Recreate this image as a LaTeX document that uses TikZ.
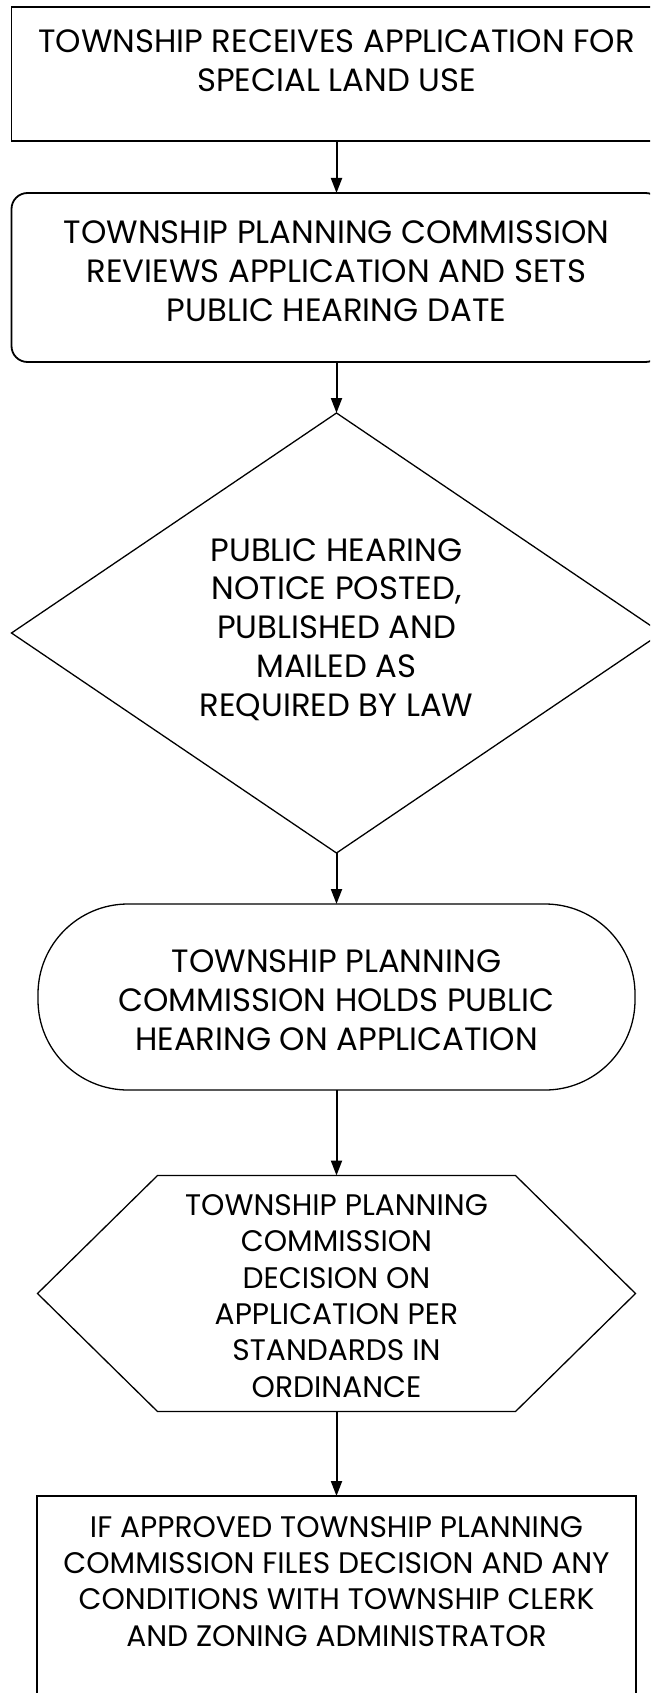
\documentclass[tikz,border=0pt]{standalone}
\usepackage{fontspec}
\setmainfont{Poppins}
\usetikzlibrary{arrows.meta,shapes.geometric,calc}
\begin{document}
\begin{tikzpicture}[x=1pt,y=-1pt,
  boxline/.style={draw=black, line width=1.8pt, inner sep=0pt, outer sep=0pt},
  thinline/.style={draw=black, line width=1.3pt, inner sep=0pt, outer sep=0pt},
  txt/.style={align=center, inner sep=0pt, font=\fontsize{32.3}{38.8}\selectfont},
  smalltxt/.style={align=center, inner sep=0pt, font=\fontsize{29.7}{36.3}\selectfont},
  flow/.style={line width=2pt, -{Triangle[length=15pt,width=11pt]}}
]
\useasboundingbox (0,0) rectangle (650,1693);
\fill[white] (0,0) rectangle (650,1693);
\clip (0,0) rectangle (650,1693);

% shapes
\node[boxline, minimum width=650pt, minimum height=134pt] (b1) at (336.5,74) {};
\node[boxline, rounded corners=16pt, minimum width=650pt, minimum height=169pt] (b2) at (336.5,277.5) {};
\node[diamond, thinline, minimum width=650pt, minimum height=440pt] (dia) at (336.5,633) {};
\node[thinline, rounded corners=90pt, minimum width=597pt, minimum height=186pt] (stad) at (336.5,997) {};
\node[inner sep=0pt, outer sep=0pt, minimum width=598pt, minimum height=236pt] (hex) at (336.5,1293.5) {};
\draw[line width=1.3pt] (hex.west) -- ($(hex.north west)+(120,0)$) -- ($(hex.north east)+(-120,0)$)
  -- (hex.east) -- ($(hex.south east)+(-120,0)$) -- ($(hex.south west)+(120,0)$) -- cycle;
\node[boxline, minimum width=599pt, minimum height=214pt] (b6) at (336.5,1603) {};

% texts
\node[txt] (t1) at (336.5,64.5) {\strut TOWNSHIP RECEIVES APPLICATION FOR\\SPECIAL LAND USE\strut};
\node[txt] (t2) at (336.5,274.5) {\strut TOWNSHIP PLANNING COMMISSION\\REVIEWS APPLICATION AND SETS\\PUBLIC HEARING DATE\strut};
\node[txt] (t3) at (336.5,631) {\strut PUBLIC HEARING\\NOTICE POSTED,\\PUBLISHED AND\\MAILED AS\\REQUIRED BY LAW\strut};
\node[txt] (t4) at (336.5,1003.5) {\strut TOWNSHIP PLANNING\\COMMISSION HOLDS PUBLIC\\HEARING ON APPLICATION\strut};
\node[smalltxt] (t5) at (336.5,1299) {\strut TOWNSHIP PLANNING\\COMMISSION\\DECISION ON\\APPLICATION PER\\STANDARDS IN\\ORDINANCE\strut};
\node[smalltxt] (t6) at (336.5,1584.5) {\strut IF APPROVED TOWNSHIP PLANNING\\COMMISSION FILES DECISION AND ANY\\CONDITIONS WITH TOWNSHIP CLERK\\AND ZONING ADMINISTRATOR\strut};

% connectors
\draw[flow] (b1.south) -- (b2.north);
\draw[flow] (b2.south) -- (dia.north);
\draw[flow] (dia.south) -- (stad.north);
\draw[flow] (stad.south) -- (hex.north);
\draw[flow] (hex.south) -- (b6.north);
\end{tikzpicture}
\end{document}
